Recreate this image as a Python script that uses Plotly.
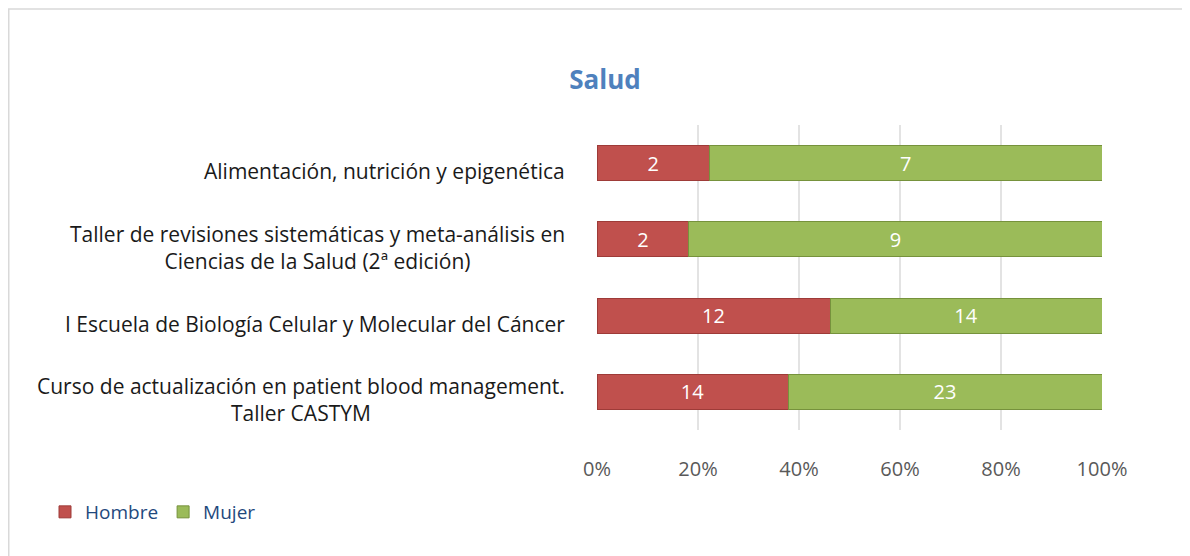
"""
Salud: participantes por curso y sexo (barras apiladas al 100%)
"""

import plotly.graph_objects as go

# categorías de abajo hacia arriba (orden del eje y en Plotly)
cursos = [
    "Curso de actualización en patient blood management.<br>Taller CASTYM",
    "I Escuela de Biología Celular y Molecular del Cáncer",
    "Taller de revisiones sistemáticas y meta-análisis en<br>Ciencias de la Salud (2ª edición)",
    "Alimentación, nutrición y epigenética",
]
hombre = [14, 12, 2, 2]
mujer = [23, 14, 9, 7]
ticks = [0, 20, 40, 60, 80, 100]
tick_text = ["0%", "20%", "40%", "60%", "80%", "100%"]

FONT = "Open Sans"
# la página añade 8 px de margen al body: la figura ocupa el resto de la ventana
W, H = 1182, 548
L, R, T, B = 589, 88, 117, 126
pw, ph = W - L - R, H - T - B

fig = go.Figure()

fig.add_trace(go.Bar(
    y=cursos, x=hombre, name="Hombre", orientation="h",
    marker=dict(color="#C0504D", line=dict(color="#9E3B38", width=1)),
    text=hombre, textposition="inside", insidetextanchor="middle",
    textfont=dict(color="white", size=20, family=FONT),
    width=0.46,
))
fig.add_trace(go.Bar(
    y=cursos, x=mujer, name="Mujer", orientation="h",
    marker=dict(color="#9BBB59", line=dict(color="#76923C", width=1)),
    text=mujer, textposition="inside", insidetextanchor="middle",
    textfont=dict(color="white", size=20, family=FONT),
    width=0.46,
))

# etiquetas de categoría centradas (como en el original)
for c in cursos:
    fig.add_annotation(
        x=-30 / pw, xref="paper", y=c, yref="y", yshift=-8,
        text=c, showarrow=False, xanchor="right", align="center",
        font=dict(size=21, color="#1a1a1a", family=FONT),
    )

# marco exterior del gráfico
fig.add_shape(
    type="rect", xref="paper", yref="paper",
    x0=(0.75 - L) / pw, x1=(W + 10 - L) / pw,
    y0=-(B + 10) / ph, y1=1 + (T - 1) / ph,
    line=dict(color="#D9D9D9", width=1.5),
)

fig.update_layout(
    width=W, height=H,
    barmode="stack", barnorm="percent",
    margin=dict(l=L, r=R, t=T, b=B, autoexpand=False),
    plot_bgcolor="white", paper_bgcolor="white",
    font=dict(family=FONT),
    title=dict(
        text="<b>Salud</b>", x=(597 - L) / pw, xref="paper", xanchor="center",
        y=1 - 72 / H, yanchor="middle",
        font=dict(size=26, color="#4F81BD", family=FONT),
    ),
    xaxis=dict(
        range=[0, 100], tickvals=ticks, ticktext=tick_text,
        showgrid=True, gridcolor="#E3E3E3", gridwidth=1.5,
        zeroline=False, showline=False,
        tickfont=dict(size=20, color="#595959", family=FONT),
        ticklabelstandoff=25,
    ),
    yaxis=dict(
        showticklabels=False, showgrid=False, zeroline=False,
        range=[-0.5, 3.5],
    ),
    showlegend=True,
    legend=dict(
        orientation="h", x=(37 - L) / pw, xanchor="left",
        y=-(504 - T - ph) / ph, yanchor="middle",
        font=dict(size=19, color="#1F497D", family=FONT),
        traceorder="normal", itemwidth=30,
    ),
)

fig.write_html("out.html")
